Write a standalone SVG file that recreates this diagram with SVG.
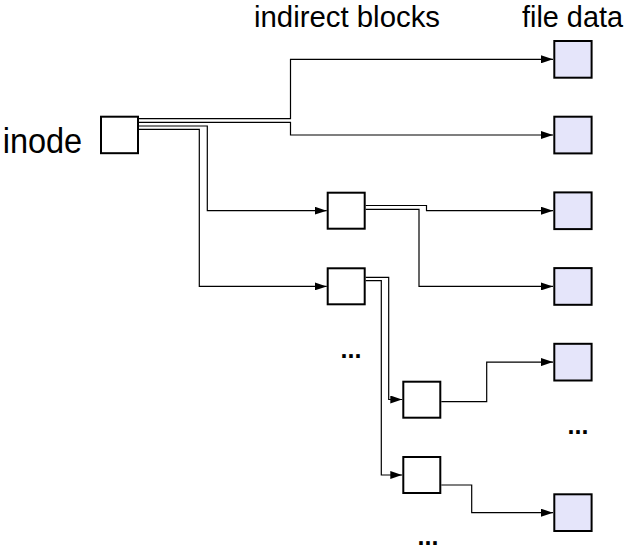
<svg xmlns="http://www.w3.org/2000/svg" width="626" height="548" viewBox="0 0 626 548">
  <style>
    .box { fill: #ffffff; stroke: #000000; stroke-width: 2; }
    .data { fill: #e5e5fa; stroke: #000000; stroke-width: 2; }
    .link { fill: none; stroke: #000000; stroke-width: 1.2; marker-end: url(#arrow); }
    .label { font-family: "Liberation Sans", Arial, sans-serif; fill: #000000; }
    .dots { font-family: "Liberation Sans", Arial, sans-serif; font-weight: bold; font-size: 25px; fill: #000000; text-anchor: middle; }
  </style>
  <defs>
    <marker id="arrow" markerUnits="userSpaceOnUse" markerWidth="12" markerHeight="8" refX="12" refY="4" orient="auto">
      <path d="M0,0 L12,4 L0,8 Z" fill="#000000"/>
    </marker>
  </defs>

  <rect width="626" height="548" fill="#ffffff"/>

  <!-- column headings -->
  <text class="label" x="254" y="26.5" font-size="29" textLength="186" lengthAdjust="spacingAndGlyphs">indirect blocks</text>
  <text class="label" x="522" y="26.5" font-size="29" textLength="101" lengthAdjust="spacingAndGlyphs">file data</text>

  <!-- inode -->
  <g id="inode">
    <text class="label" x="2.7" y="153.3" font-size="35" textLength="79.5" lengthAdjust="spacingAndGlyphs">inode</text>
    <rect class="box" x="101" y="116.7" width="37" height="36.5"/>
  </g>

  <!-- indirect blocks -->
  <g id="indirect1"><rect class="box" x="327.7" y="192.7" width="37" height="36"/></g>
  <g id="indirect2"><rect class="box" x="327.7" y="268.3" width="37" height="36"/></g>
  <g id="indirect3"><rect class="box" x="403.3" y="381.7" width="37" height="36"/></g>
  <g id="indirect4"><rect class="box" x="403.3" y="457" width="37" height="36"/></g>

  <!-- data blocks -->
  <g id="data1"><rect class="data" x="554.3" y="41" width="37.3" height="36.7"/></g>
  <g id="data2"><rect class="data" x="554.3" y="116.7" width="37.3" height="36.7"/></g>
  <g id="data3"><rect class="data" x="554.3" y="192.4" width="37.3" height="36.7"/></g>
  <g id="data4"><rect class="data" x="554.3" y="268.1" width="37.3" height="36.7"/></g>
  <g id="data5"><rect class="data" x="554.3" y="343.8" width="37.3" height="36.7"/></g>
  <g id="data6"><rect class="data" x="554.3" y="494.3" width="37.3" height="36.7"/></g>

  <!-- elisions -->
  <text class="dots" x="351" y="357.5">...</text>
  <text class="dots" x="578" y="433.7">...</text>
  <text class="dots" x="428" y="545">...</text>

  <!-- pointers -->
  <g id="connectors">
    <polyline class="link" points="139,118.7 290.5,118.7 290.5,59.3 553,59.3"/>
    <polyline class="link" points="139,122.3 290.5,122.3 290.5,135 553,135"/>
    <polyline class="link" points="139,126 207.3,126 207.3,210.7 326.7,210.7"/>
    <polyline class="link" points="139,129.3 199.3,129.3 199.3,286.4 326.7,286.4"/>
    <polyline class="link" points="365.7,205.5 426.5,205.5 426.5,210.7 553,210.7"/>
    <polyline class="link" points="365.7,209.3 419,209.3 419,286.4 553,286.4"/>
    <polyline class="link" points="365.7,277.3 388.7,277.3 388.7,399.5 402.3,399.5"/>
    <polyline class="link" points="365.7,280.7 381.3,280.7 381.3,475 402.3,475"/>
    <polyline class="link" points="441.3,401.7 486.7,401.7 486.7,362.1 553,362.1"/>
    <polyline class="link" points="441.3,485 471.7,485 471.7,512.7 553,512.7"/>
  </g>
</svg>
